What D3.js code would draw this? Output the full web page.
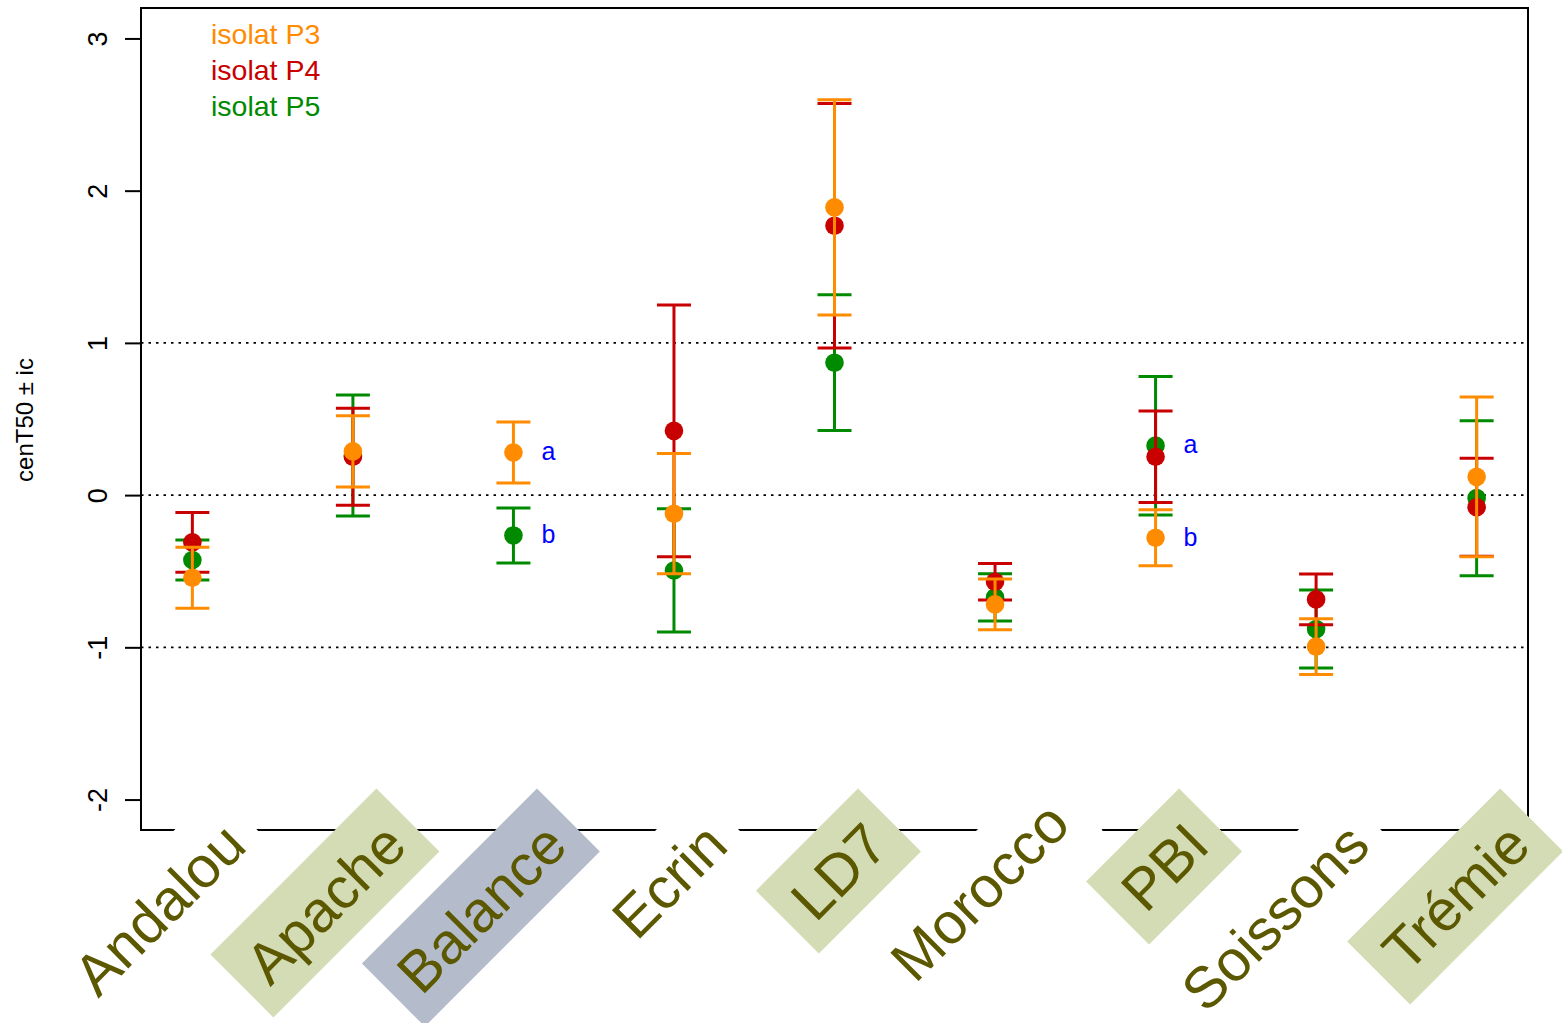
<!DOCTYPE html>
<html lang="fr">
<head>
<meta charset="UTF-8">
<title>cenT50 par variété</title>
<style>
    body { margin: 0; background: #fff; }
    svg { display: block; font-family: "Liberation Sans", Arial, sans-serif; }
</style>
</head>
<body>
<svg id="chart" width="1562" height="1023"></svg>
<script src="https://d3js.org/d3.v7.min.js"></script>
<script>
    // varietes (axe x)
    const varietes = ["Andalou", "Apache", "Balance", "Ecrin", "LD7", "Morocco", "PBI", "Soissons", "Trémie"];
    // groupe du cadre derriere chaque nom (0 = aucun, 1 = vert, 2 = gris)
    const groupeVariete = [0, 1, 2, 0, 1, 0, 1, 0, 1];

    const isolats = ["isolat P3", "isolat P4", "isolat P5"];

    // cenT50 moyen et demi-intervalle de confiance, par isolat
    const p3Moy = [-0.543, 0.287, 0.280, -0.122, 1.890, -0.718, -0.280, -0.995, 0.120];
    const p3Ic  = [0.200, 0.234, 0.200, 0.395, 0.707, 0.167, 0.184, 0.183, 0.525];
    const p4Moy = [-0.310, 0.252, null, 0.422, 1.770, -0.569, 0.252, -0.685, -0.080];
    const p4Ic  = [0.196, 0.318, null, 0.827, 0.803, 0.120, 0.300, 0.167, 0.322];
    const p5Moy = [-0.426, 0.260, -0.265, -0.495, 0.870, -0.672, 0.325, -0.880, -0.020];
    const p5Ic  = [0.131, 0.397, 0.181, 0.405, 0.446, 0.155, 0.455, 0.256, 0.509];

    // lettres de groupes statistiques
    const lettreVariete = ["Balance", "Balance", "PBI", "PBI"];
    const lettreTexte = ["a", "b", "a", "b"];
    const lettreY = [0.280, -0.265, 0.330, -0.280];

    const yTicks = [-2, -1, 0, 1, 2, 3];
    const yRefs = [-1, 0, 1];

    const couleurs = { "isolat P3": "#ff8c00", "isolat P4": "#c80000", "isolat P5": "#008a00" };
    const fondNoms = ["#fff", "#d3dcb4", "#b4bccb"];

    const svg = d3.select("#chart");
    const plot = { left: 141, right: 1528, top: 8, bottom: 830 };

    const x = d3.scalePoint()
        .domain(varietes)
        .range([plot.left, plot.right])
        .padding(0.32);

    const y = d3.scaleLinear()
        .domain([-2.2, 3.2])
        .range([plot.bottom, plot.top]);

    // lignes de reference pointillees
    svg.append("g").selectAll("line")
        .data(yRefs)
        .enter().append("line")
        .attr("x1", plot.left).attr("x2", plot.right)
        .attr("y1", d => y(d)).attr("y2", d => y(d))
        .attr("stroke", "#000")
        .attr("stroke-width", 1.6)
        .attr("stroke-dasharray", "2.5,5");

    // axe y
    const axeY = svg.append("g")
        .attr("transform", `translate(${plot.left},0)`)
        .call(d3.axisLeft(y).tickValues(yTicks).tickSize(16).tickFormat(d => String(d)));
    axeY.select(".domain").remove();
    axeY.selectAll(".tick line").attr("stroke-width", 2);
    axeY.selectAll(".tick text")
        .attr("font-size", 27)
        .attr("font-family", "Liberation Sans, Arial, sans-serif")
        .attr("fill", "#000")
        .attr("text-anchor", "middle")
        .attr("dy", null)
        .attr("x", null)
        .attr("transform", "translate(-34,0) rotate(-90)");

    svg.append("text")
        .attr("transform", `translate(33,${(plot.top + plot.bottom) / 2 + 1}) rotate(-90)`)
        .attr("text-anchor", "middle")
        .attr("font-size", 24)
        .text("cenT50 ± ic");

    // cadre
    svg.append("rect")
        .attr("x", plot.left).attr("y", plot.top)
        .attr("width", plot.right - plot.left)
        .attr("height", plot.bottom - plot.top)
        .attr("fill", "none")
        .attr("stroke", "#000")
        .attr("stroke-width", 2);

    // series (P5 dessinee en premier, P3 au-dessus)
    const series = [
        { nom: "isolat P5", moy: p5Moy, ic: p5Ic },
        { nom: "isolat P4", moy: p4Moy, ic: p4Ic },
        { nom: "isolat P3", moy: p3Moy, ic: p3Ic }
    ];
    const demiCap = 17;

    series.forEach(s => {
        const pts = varietes.map((v, i) => ({ v: v, m: s.moy[i], ic: s.ic[i] }))
            .filter(d => d.m !== null);
        const g = svg.append("g")
            .attr("stroke", couleurs[s.nom])
            .attr("fill", couleurs[s.nom]);

        pts.forEach(d => {
            const cx = x(d.v);
            g.append("line")
                .attr("x1", cx).attr("x2", cx)
                .attr("y1", y(d.m - d.ic)).attr("y2", y(d.m + d.ic))
                .attr("stroke-width", 3);
            [d.m - d.ic, d.m + d.ic].forEach(b => {
                g.append("line")
                    .attr("x1", cx - demiCap).attr("x2", cx + demiCap)
                    .attr("y1", y(b)).attr("y2", y(b))
                    .attr("stroke-width", 3);
            });
            g.append("circle")
                .attr("cx", cx).attr("cy", y(d.m))
                .attr("r", 9.3)
                .attr("stroke", "none");
        });
    });

    // lettres a / b
    svg.append("g").selectAll("text")
        .data(lettreTexte)
        .enter().append("text")
        .attr("x", (d, i) => x(lettreVariete[i]) + 28)
        .attr("y", (d, i) => y(lettreY[i]) + 8)
        .attr("font-size", 25)
        .attr("fill", "#0000ff")
        .text(d => d);

    // legende
    svg.append("g").selectAll("text")
        .data(isolats)
        .enter().append("text")
        .attr("x", 211)
        .attr("y", (d, i) => 43.5 + i * 36.3)
        .attr("font-size", 28.5)
        .attr("fill", d => couleurs[d])
        .text(d => d);

    // noms des varietes, inclines a 45 degres avec un cadre
    const taillePolice = 58, marge = 19, hautCadre = 89;
    const decalage = { "Morocco": 30 }; // Morocco est un peu remonte sur l'original
    varietes.forEach((v, i) => {
        const d = (decalage[v] || 0) / Math.SQRT2;
        const g = svg.append("g")
            .attr("transform", `translate(${x(v) + 55 + d},${820 - d}) rotate(-45)`);
        const r = g.append("rect");
        const t = g.append("text")
            .attr("x", -marge)
            .attr("y", taillePolice * 0.36)
            .attr("text-anchor", "end")
            .attr("font-size", taillePolice)
            .attr("fill", "#5c5800")
            .text(v);
        const long = t.node().getComputedTextLength() + 2 * marge;
        r.attr("x", -long)
            .attr("y", -hautCadre / 2)
            .attr("width", long)
            .attr("height", hautCadre)
            .attr("fill", fondNoms[groupeVariete[i]]);
    });
</script>
</body>
</html>
